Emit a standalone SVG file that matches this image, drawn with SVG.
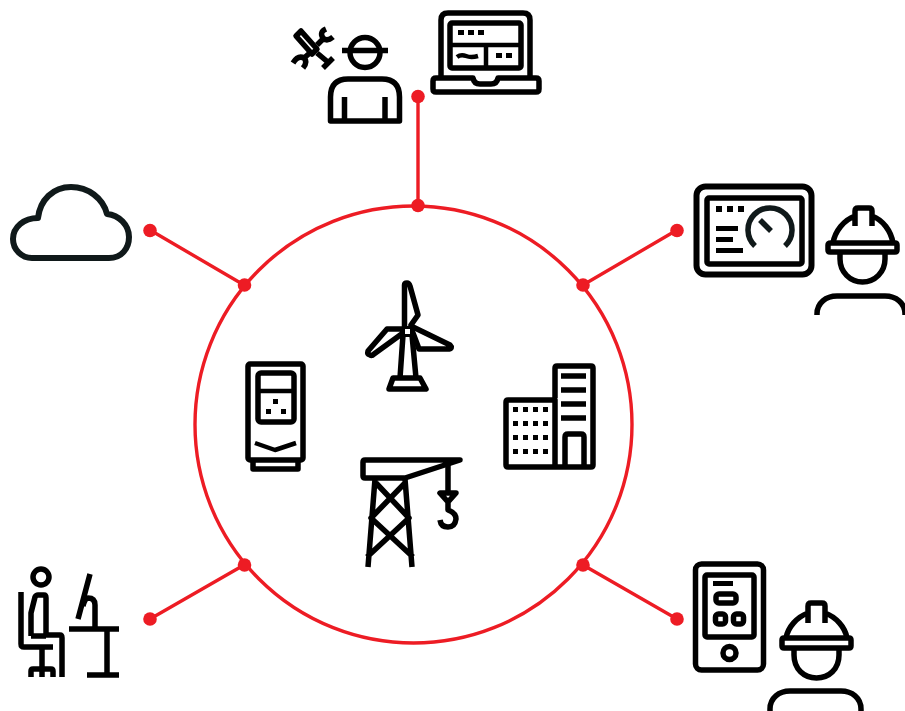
<svg xmlns="http://www.w3.org/2000/svg" width="905" height="711" viewBox="0 0 905 711">
<style>
.i{fill:none;stroke:#000;stroke-width:5.500;stroke-linejoin:round}
.t{stroke-width:4.500}
.w{fill:#fff}
.g{stroke:#10191a}
.c{stroke-width:6}
.r{stroke:#ed1c24;stroke-width:3.400;fill:none}
.d{fill:#ed1c24}
.k{fill:#000}
</style>
<rect width="905" height="711" fill="#fff"/>
<g id="connectors">
<circle class="r" cx="413.500" cy="424.500" r="218.500"/>
<path class="r" d="M418 96V205M150 230L244 285M677 230L583 285M150 619L244 565M677 619L583 565"/>
<circle class="d" cx="418" cy="96.500" r="6.800"/><circle class="d" cx="418" cy="205.500" r="6.800"/>
<circle class="d" cx="150" cy="230.500" r="6.800"/><circle class="d" cx="244.500" cy="285" r="6.800"/>
<circle class="d" cx="677" cy="230.500" r="6.800"/><circle class="d" cx="583" cy="285" r="6.800"/>
<circle class="d" cx="150" cy="619" r="6.800"/><circle class="d" cx="244.500" cy="565" r="6.800"/>
<circle class="d" cx="677" cy="619" r="6.800"/><circle class="d" cx="583" cy="565" r="6.800"/>
</g>
<g id="laptop">
<path class="i" d="M441 78V20Q441 13 448 13H523Q530 13 530 20V78"/>
<rect class="i" x="450" y="23" width="71" height="45" rx="2"/>
<path class="i t" d="M450 45H521M486 45V68"/>
<path class="i t" d="M457 57Q461 54 466 56T478 56"/>
<path class="k" d="M458 30h6v5h-6zM468 30h6v5h-6zM478 30h6v5h-6zM496 53h6v5h-6zM506 53h6v5h-6z"/>
<path class="i" d="M436 78H473Q474 84 480 84H491Q497 84 498 78H536Q539 78 539 81V89Q539 92 536 92H436Q433 92 433 89V81Q433 78 436 78Z"/>
</g>
<g id="technician">
<circle class="i" cx="365" cy="52.500" r="15"/>
<path class="i" d="M342 50.500H388"/>
<path class="i" d="M330.500 121V97Q330.500 79 348 79H382Q399.500 79 399.500 97V121ZM344.500 97V121M385 97V121"/>
<path class="i" d="M296 36L301 31L317 49L312 54Z"/>
<path class="i" d="M317 45L323 39M326 29Q319 32 323 38Q327 42 333 37"/>
<path class="i" d="M311 52L304 58M293 63Q298 55 304 58Q308 62 303 68"/>
<path class="i" d="M317 53L329 63M323 68L333 58"/>
</g>
<g id="cloud">
<path class="i g c" d="M32 258H109C122 258 129 248 129 237C129 225 119 215 107 214C103 198 88 187 71 187C53 187 40 200 38 218C24 218 13 227 13 239C13 250 22 258 32 258Z"/>
</g>
<g id="hmi">
<rect class="i c" x="696.500" y="186.500" width="115" height="88" rx="9"/>
<rect class="i" x="707" y="198" width="95" height="66" rx="2"/>
<path class="k" d="M716 206h6v6h-6zM727 206h6v6h-6zM738 206h6v6h-6zM716 226h22v5h-22zM716 237h17v5h-17zM716 248h27v5h-27z"/>
<path class="i g" d="M755 246A22 22 0 1 1 785 246M760 220L771 231"/>
</g>
<g id="engineer-top">
<path class="i" d="M855 223V211Q855 208 858 208H869Q872 208 872 211V223M872 216C883 220 891 231 893 243M855 216C844 220 835 231 833 243M855 216V226M872 216V226"/>
<path class="i" d="M831 243H895Q897 243 897 245V250Q897 252 895 252H830Q828 252 828 250V245Q828 243 831 243Z"/>
<path class="i" d="M840 252V259C840 272 850 282 862.500 282C875 282 885 272 885 259V252"/>
<path class="i" d="M817 315V314C817 303 826 296 837 296H885C896 296 905 303 905 314V315"/>
</g>
<g id="tablet">
<rect class="i" x="695.500" y="564" width="68" height="106" rx="6"/>
<rect class="i" x="705" y="575" width="49" height="62" rx="2"/>
<path class="k" d="M713 581h20v5h-20z"/>
<rect class="i" x="716" y="594" width="20" height="9" rx="3"/>
<rect class="i" x="715.500" y="614" width="10" height="10" rx="3"/><rect class="i" x="733.500" y="614" width="10" height="10" rx="3"/>
<circle class="i" cx="729.500" cy="653" r="6.500"/>
</g>
<g id="engineer-bottom">
<path class="i" d="M808 612V606Q808 603 811 603H822Q825 603 825 606V612M825 613C836 617 845 627 847 638M808 613C797 617 788 627 786 638M808 612V623M825 612V623"/>
<path class="i" d="M784 638H849Q851 638 851 640V646Q851 648 849 648H784Q782 648 782 646V640Q782 638 784 638Z"/>
<path class="i" d="M794 648V655C794 669 804 678 816.500 678C829 678 839 669 839 655V648"/>
<path class="i" d="M770 711V709C770 698 779 691 790 691H841C852 691 861 698 861 709V711"/>
</g>
<g id="operator">
<circle class="i" cx="41" cy="577" r="8"/>
<path class="i" d="M21 592V644Q21 647 24 647H53"/>
<path class="i" d="M31 636V613L35 597Q36 595 38 595H44Q46 595 46 598V635H60Q62 635 62 638V677M31 636H46"/>
<path class="i" d="M42 647V668M31 677V671Q31 669 33 669H51Q53 669 53 671V677M42 669V677"/>
<path class="i" d="M90 574L78 619M83 606Q85 598 88 598Q95 598 95 605V628"/>
<path class="i" d="M69 629H119M107 629V676M87 675H119"/>
</g>
<g id="turbine">
<path class="i" d="M404.500 328V285Q404.500 283 407 283Q409 283 410 286L418 315L411 325" stroke-linecap="round"/>
<path class="i" d="M403 329H387L368 351Q367 354 370 355Q372 356 374 354L403 333" stroke-linecap="round"/>
<path class="i" d="M413 327L450 345Q453 348 449 349H419L413 333" stroke-linecap="round"/>
<path class="i" d="M403 335L400 378M412 335L416 378"/>
<path class="i" d="M393 378H420L426 389H389Z"/>
<rect class="k" x="402" y="326" width="11" height="11"/>
<rect class="w" x="405" y="329" width="5" height="5"/>
</g>
<g id="crane">
<path class="i" d="M365 460H460L405 478H365Q363 478 363 476V462Q363 460 365 460Z"/>
<path class="i" d="M375 479L368 567M405 479L412 567M376 483L409 518L367 557M405 483L371 518L413 557"/>
<path class="i" d="M448 462V491M440 493H456L448 502ZM448 502V510Q456 513 456 519Q455 527 448 527Q441 527 440 520"/>
</g>
<g id="drive">
<rect class="i" x="248" y="364" width="55" height="96" rx="2"/>
<rect class="i" x="258" y="373" width="36" height="49" rx="3"/>
<path class="i t" d="M258 391H294"/>
<path class="k" d="M273 399h5v5h-5zM266 409h5v5h-5zM281 409h5v5h-5z"/>
<path class="i t" d="M255 443L275 450L296 443"/>
<path class="i" d="M253 460V469H298V460"/>
</g>
<g id="building">
<path class="i" d="M555 398V368Q555 366 557 366H591Q593 366 593 368V465Q593 467 591 467H508Q506 467 506 465V402Q506 400 508 400H555V467"/>
<path class="i" d="M561 376H586M561 390H586M561 404H586M561 418H586M565 467V437Q565 434 568 434H581Q584 434 584 437V467"/>
<path class="k" d="M513 407h5v5h-5zM523 407h5v5h-5zM533 407h5v5h-5zM543 407h5v5h-5zM513 421h5v5h-5zM523 421h5v5h-5zM533 421h5v5h-5zM543 421h5v5h-5zM513 435h5v5h-5zM523 435h5v5h-5zM533 435h5v5h-5zM543 435h5v5h-5zM513 449h5v5h-5zM523 449h5v5h-5zM533 449h5v5h-5zM543 449h5v5h-5z"/>
</g>
</svg>
